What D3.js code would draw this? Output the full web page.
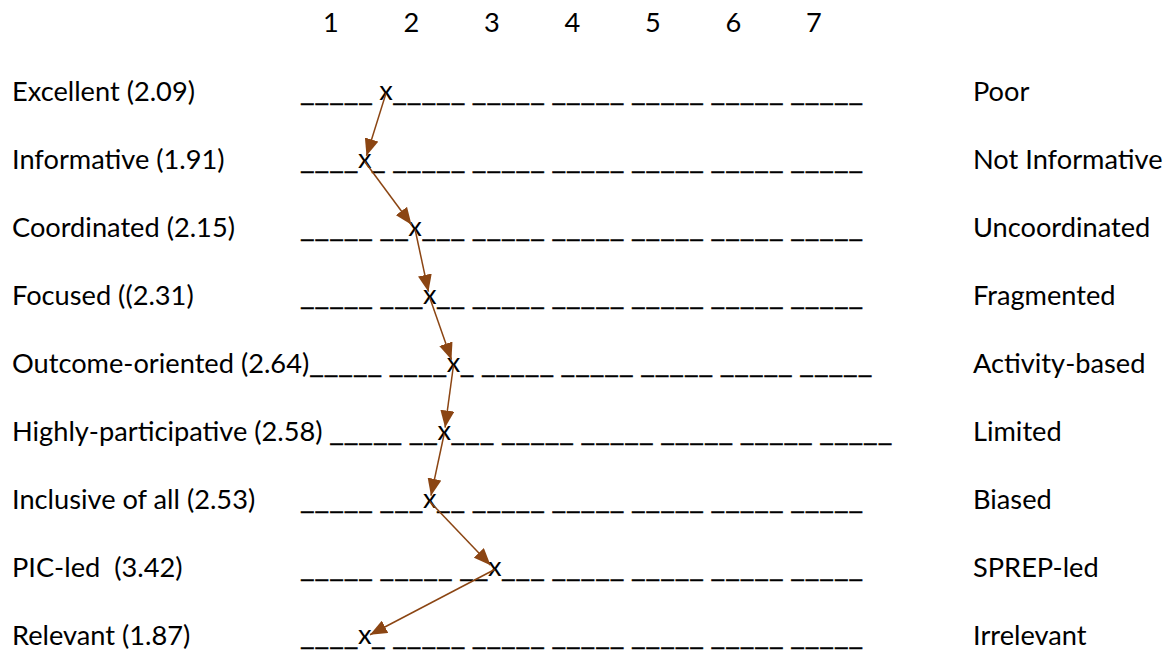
<!DOCTYPE html>
<html><head><meta charset="utf-8">
<script src="https://cdn.jsdelivr.net/npm/d3@7"></script>
<style>
body{margin:0;background:#fff}
svg{display:block}
text{font-family:Lato,"Open Sans",sans-serif;white-space:pre;fill:#000}
</style>
</head><body>
<svg id="chart" width="1173" height="651"></svg>
<script>
// ---- data ----
const scalePoints = [1, 2, 3, 4, 5, 6, 7];
// label text before the bracketed mean, exactly as in the original form
const leftNames = ["Excellent ", "Informative ", "Coordinated ", "Focused (", "Outcome-oriented ",
  "Highly-participative ", "Inclusive of all ", "PIC-led  ", "Relevant "];
const meanScores = [2.09, 1.91, 2.15, 2.31, 2.64, 2.58, 2.53, 3.42, 1.87];
const rightLabels = ["Poor", "Not Informative", "Uncoordinated", "Fragmented", "Activity-based",
  "Limited", "Biased", "SPREP-led", "Irrelevant"];
// response lines as typed in the original form (x = mark)
const responseLines = [
  "_____ x_____ _____ _____ _____ _____ _____",
  "____x_ _____ _____ _____ _____ _____ _____",
  "_____ __x___ _____ _____ _____ _____ _____",
  "_____ ___x__ _____ _____ _____ _____ _____",
  "_____ ____x_ _____ _____ _____ _____ _____",
  "_____ __x___ _____ _____ _____ _____ _____",
  "_____ ___x__ _____ _____ _____ _____ _____",
  "_____ _____ __x___ _____ _____ _____ _____",
  "____x_ _____ _____ _____ _____ _____ _____"
];
// how each line follows its label: "tab" = tab stop, otherwise literal joiner
const lineJoin = ["tab", "tab", "tab", "tab", "", " ", "tab", "tab", "tab"];

// ---- layout ----
const svg = d3.select("#chart");
const EM = 29.3;                       // original point size in px
const adv = {"_": 0.498 * EM, " ": 0.226 * EM, "x": 0.433 * EM};
const tabStop = 300;
const leftX = 12, rightX = 973;
const arrowColor = "#8b4513";

// size the font so the first label matches the original width
const probe = svg.append("text").attr("font-size", 100).text("Excellent (2.09)");
const fs = 100 * 183 / probe.node().getComputedTextLength();
probe.remove();

const y = d3.scalePoint().domain(d3.range(leftNames.length)).range([101, 645]);
const x = d3.scaleLinear().domain([1, 7]).range([331, 814]);

// header scale numbers
svg.append("g").selectAll("text").data(scalePoints).join("text")
  .attr("x", d => x(d)).attr("y", 32)
  .attr("text-anchor", "middle").attr("font-size", fs)
  .text(d => d);

svg.append("defs").append("marker")
  .attr("id", "ah").attr("viewBox", "0 0 17 14")
  .attr("refX", 17).attr("refY", 7)
  .attr("markerWidth", 17).attr("markerHeight", 14)
  .attr("markerUnits", "userSpaceOnUse").attr("orient", "auto")
  .append("path").attr("d", "M0,0 L17,7 L0,14 Z").attr("fill", arrowColor);

const marks = [];
leftNames.forEach((name, i) => {
  const by = y(i);
  const label = svg.append("text")
    .attr("x", leftX).attr("y", by).attr("font-size", fs)
    .text(`${name}(${meanScores[i].toFixed(2)})`);
  const labelEnd = leftX + label.node().getComputedTextLength();

  let cur = lineJoin[i] === "tab" ? tabStop : labelEnd + lineJoin[i].length * adv[" "];
  const g = svg.append("g");
  const pat = responseLines[i];
  let k = 0;
  while (k < pat.length) {
    const ch = pat[k];
    if (ch === "_") {
      let n = 0;
      while (pat[k + n] === "_") n++;
      g.append("text").attr("x", cur).attr("y", by).attr("font-size", fs)
        .attr("textLength", n * adv["_"]).attr("lengthAdjust", "spacingAndGlyphs")
        .attr("stroke", "#000").attr("stroke-width", 0.5)
        .text("_".repeat(n));
      cur += n * adv["_"];
      k += n;
    } else if (ch === "x") {
      const cx = cur + adv["x"] / 2;
      g.append("text").attr("x", cx).attr("y", by - 1).attr("font-size", fs)
        .attr("text-anchor", "middle").text("x");
      marks.push({x: cx, y: by - 7.5});
      cur += adv["x"];
      k++;
    } else {
      cur += adv[" "];
      k++;
    }
  }

  svg.append("text").attr("x", rightX).attr("y", by).attr("font-size", fs)
    .text(rightLabels[i]);
});

// arrows linking successive marks
const gap = 6;
svg.append("g").selectAll("line").data(d3.pairs(marks)).join("line")
  .attr("x1", d => d[0].x).attr("y1", d => d[0].y)
  .attr("x2", d => { const dx = d[1].x - d[0].x, dy = d[1].y - d[0].y, L = Math.hypot(dx, dy); return d[1].x - dx / L * gap; })
  .attr("y2", d => { const dx = d[1].x - d[0].x, dy = d[1].y - d[0].y, L = Math.hypot(dx, dy); return d[1].y - dy / L * gap; })
  .attr("stroke", arrowColor).attr("stroke-width", 1.5)
  .attr("marker-end", "url(#ah)");
</script>
</body></html>
